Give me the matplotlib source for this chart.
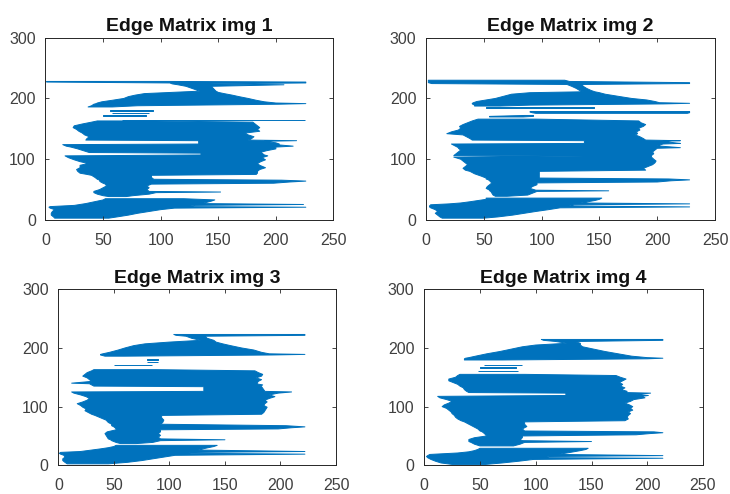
import numpy as np
import matplotlib
matplotlib.use("Agg")
import matplotlib.pyplot as plt

N = np.nan

# edge rows per image: (row y, leftmost edge x, rightmost edge x); N rows split the outline
edges_img1 = [
    (228, 1, 108), (227, 1, 226), (225.5, 108, 226), (224, 110, 142), (222.5, 115, 207),
    (220, 122, 144), (216, 128, 146), (212, 134, 148), (210, 110, 150), (208, 86, 155),
    (205.5, 78, 162), (203, 72, 168), (200, 68, 176), (197, 58, 183), (194.5, 49, 190),
    (192.5, 45, 200), (191.5, 44, 226), (190.5, 42, 202), (188, 40, 80), (186, 37, 58), (N, N, N),
    (180.5, 56, 93), (179.5, 56, 93), (N, N, N), (176.5, 58, 90), (175.5, 58, 90), (N, N, N),
    (172, 50, 87), (170.5, 50, 87), (N, N, N), (165, 66, 225), (164, 66, 225), (N, N, N),
    (163, 45, 92), (161, 40, 180), (158, 32, 182), (155, 25, 184), (152, 24, 186), (149, 27, 184),
    (146, 29, 186), (143, 32, 173), (140, 34, 176), (137, 38, 181), (134, 36, 179), (131.5, 35, 176),
    (130.5, 133, 218), (129.5, 133, 190), (127, 133, 200), (125, 133, 203), (124, 15, 200),
    (121.5, 18, 215), (120, 22, 200), (117, 28, 200), (114, 33, 192), (111, 38, 186),
    (110, 135, 188), (107, 135, 190),
    (105.5, 17, 193), (102.5, 20, 188), (99, 25, 191), (96, 30, 187), (93, 37, 184), (90, 30, 186),
    (86, 30, 191), (83, 27, 186), (80, 28, 184), (77, 30, 184), (75, 36, 183),
    (73.5, 40, 92), (70, 43, 92), (67, 45, 94), (65.5, 47, 205), (64, 47, 226), (62.5, 48, 212),
    (60.5, 50, 198), (59, 52, 92), (56, 53, 88), (53, 50, 90), (50, 47, 88), (47, 42, 90),
    (46, 42, 152), (45, 42, 96), (42.5, 45, 90), (40, 50, 76), (38.5, 55, 70), (N, N, N),
    (35, 52, 120), (33, 50, 147), (31, 45, 144), (29, 40, 140), (27, 35, 135), (25.5, 30, 224),
    (24, 25, 130), (22, 4, 122), (21, 3, 226), (19.5, 4, 112), (17, 8, 100), (14, 6, 90),
    (11, 5, 80), (8, 5, 72), (5, 7, 62), (3, 8, 55),
]

edges_img2 = [
    (230, 2, 120), (228, 2, 124), (226, 2, 228), (224.5, 5, 228), (223, 122, 135),
    (220, 126, 136), (216.5, 130, 139), (213, 133, 143), (211, 136, 146), (209.5, 90, 150),
    (207, 74, 155), (203, 66, 168), (200, 60, 178), (197.5, 52, 191), (195, 44, 198),
    (193, 41, 202), (192, 40, 228), (191, 40, 205), (189, 42, 90), (187.5, 42, 64), (N, N, N),
    (185.8, 52, 145), (185, 52, 145), (N, N, N),
    (178.5, 90, 228), (177.5, 90, 228), (176.5, 92, 228), (175.5, 95, 226), (N, N, N),
    (172, 85, 93), (170.5, 55, 93), (169.5, 55, 84), (N, N, N),
    (166, 45, 95), (163, 40, 184), (160, 36, 186), (157, 32, 190), (154, 29, 188), (151, 30, 184),
    (148, 28, 185), (145, 22, 182), (142, 18, 183), (140, 32, 181), (137, 35, 185), (134, 38, 188),
    (131.5, 40, 190),
    (130.5, 137, 220), (129.5, 137, 205), (127, 137, 215), (126, 137, 220), (125, 22, 205),
    (122, 25, 200), (119, 28, 220), (118, 28, 200), (115, 30, 198), (112, 28, 196), (109, 26, 197),
    (106, 24, 195), (105, 137, 195), (103.5, 24, 195), (100, 30, 197), (97, 32, 199), (94, 34, 198),
    (91, 36, 196), (88, 34, 192), (85, 32, 188), (82, 34, 190),
    (80, 38, 98), (76, 42, 98), (72, 48, 98), (69, 52, 98), (67.5, 52, 210), (66, 54, 228),
    (64.5, 55, 212), (62.5, 56, 200), (61, 57, 96), (58, 55, 96), (55, 53, 92), (52, 52, 90),
    (49, 55, 95), (48, 55, 158), (47, 56, 96), (44, 57, 92), (41, 58, 88), (39, 60, 70), (N, N, N),
    (36, 52, 152), (34, 52, 150), (32, 45, 146), (30, 38, 140), (28, 30, 134), (26.5, 20, 228),
    (25, 4, 128), (23, 3, 124), (21.5, 3, 228), (20, 4, 116), (17, 8, 106), (14, 10, 95),
    (11, 8, 85), (8, 10, 75), (5, 12, 62), (3, 14, 50),
]

edges_img3 = [
    (223, 104, 222), (221.5, 106, 222), (220, 115, 132), (216.5, 120, 134), (213, 128, 140),
    (210, 100, 142), (207, 78, 148), (204, 68, 155), (200, 60, 165), (196.5, 54, 176),
    (192.5, 46, 183), (190, 40, 190), (189, 38, 222), (188, 38, 192), (186, 42, 60), (N, N, N),
    (181, 80, 90), (180, 80, 90), (N, N, N), (176.5, 80, 90), (175.5, 80, 90), (N, N, N),
    (171.5, 50, 84), (170.5, 50, 84), (N, N, N),
    (163, 32, 88), (161, 30, 177), (158, 26, 180), (155, 24, 184), (152, 22, 183), (149, 26, 178),
    (146, 28, 183), (143, 30, 180), (140, 12, 179), (139, 28, 178), (137, 30, 184), (135, 32, 182),
    (134, 131, 183), (126, 131, 186), (125, 12, 210), (123, 14, 198), (120, 20, 190), (117, 25, 195),
    (114, 28, 190), (111, 26, 186), (108, 22, 188), (105, 17, 186), (102, 20, 185), (99, 22, 188),
    (96, 25, 187), (93, 24, 186), (90, 27, 185), (87, 30, 183),
    (85, 33, 93), (81, 38, 93), (77, 43, 95), (73, 45, 94), (70, 48, 92), (67.5, 48, 205),
    (65.5, 50, 222), (64, 51, 210), (62, 52, 198), (60.5, 52, 92), (57, 44, 92), (54, 42, 90),
    (51, 43, 92), (48, 44, 90), (45, 45, 92), (43.5, 47, 150), (42, 48, 92), (39, 52, 85),
    (37, 56, 70), (N, N, N),
    (34, 52, 143), (32, 50, 140), (30, 45, 135), (28, 38, 130), (26, 30, 126), (23.5, 20, 222),
    (22, 2, 120), (20.5, 1, 116), (19, 2, 222), (17, 5, 105), (14, 6, 95), (11, 4, 85),
    (8, 4, 75), (5, 6, 62), (2.5, 8, 45),
]

edges_img4 = [
    (214.5, 105, 214), (213, 107, 214), (211, 118, 135), (208, 128, 140), (205, 100, 140),
    (202, 88, 142), (198, 78, 152), (194, 68, 162), (190, 56, 174), (186, 46, 186),
    (183.5, 40, 200), (182.5, 37, 214), (181.5, 36, 200), (179.5, 36, 70), (N, N, N),
    (171.5, 54, 88), (170.5, 54, 88), (N, N, N), (167.5, 50, 82), (166.5, 50, 82), (N, N, N),
    (161.5, 48, 84), (160.5, 48, 84), (N, N, N),
    (155, 32, 90), (153, 30, 172), (150, 28, 176), (147, 22, 181), (144, 22, 178), (141, 26, 175),
    (138, 30, 178), (135, 32, 176), (132, 35, 180), (129, 36, 177), (126, 38, 182), (124, 40, 180),
    (123, 127, 203), (121, 127, 190), (119, 127, 201), (117.5, 12, 195), (115, 14, 198),
    (112, 20, 188), (109, 25, 185), (106, 22, 180), (103, 18, 184), (100, 16, 187), (97, 20, 185),
    (94, 22, 187), (91, 24, 183), (88, 25, 185), (85, 27, 183), (82, 28, 182), (79, 30, 183),
    (76, 33, 180),
    (74, 36, 90), (70, 40, 90), (66, 44, 92), (62, 48, 88), (58.5, 50, 90), (57, 52, 206),
    (55.5, 53, 214), (54, 54, 202), (52, 55, 190), (50, 56, 88), (47, 45, 88), (44, 40, 86),
    (42, 40, 88), (40.5, 40, 150), (39, 42, 90), (36, 45, 86), (33, 50, 80), (N, N, N),
    (29, 50, 147), (27, 48, 145), (25, 45, 140), (23, 40, 134), (21, 30, 128), (18.5, 5, 120),
    (16.5, 3, 214), (15, 2, 112), (13, 3, 108), (12, 4, 214), (10, 6, 98), (7, 10, 85),
    (4, 15, 70), (1.5, 25, 55),
]

titles = ["Edge Matrix img 1", "Edge Matrix img 2", "Edge Matrix img 3", "Edge Matrix img 4"]
x_ticks = [0, 50, 100, 150, 200, 250]
y_ticks = [0, 100, 200, 300]

BLUE = "#0072BD"
DARK = "#262626"

plt.rcParams["font.family"] = ["Liberation Sans", "DejaVu Sans"]

fig = plt.figure(figsize=(7.3, 4.94), dpi=100)

# axes boxes in figure fractions (left, bottom, width, height)
boxes = [
    [0.0623, 0.5547, 0.3945, 0.369],
    [0.5836, 0.5547, 0.3959, 0.369],
    [0.0799, 0.0581, 0.3804, 0.3563],
    [0.5812, 0.0581, 0.3818, 0.3563],
]

all_edges = [edges_img1, edges_img2, edges_img3, edges_img4]

for box, edges, title in zip(boxes, all_edges, titles):
    ax = fig.add_axes(box)
    y, xl, xr = np.array(edges, dtype=float).T
    ax.fill_betweenx(y, xl, xr, facecolor=BLUE, edgecolor=BLUE, linewidth=0.7)
    ax.set_xlim(0, 250)
    ax.set_ylim(0, 300)
    ax.set_xticks(x_ticks)
    ax.set_yticks(y_ticks)
    ax.tick_params(direction="in", top=True, right=True, length=3, width=0.6,
                   color=DARK, labelcolor="#404040", labelsize=11.5)
    ax.tick_params(axis="x", pad=9.5)
    ax.tick_params(axis="y", pad=7)
    for s in ax.spines.values():
        s.set_color(DARK)
        s.set_linewidth(0.7)
    ax.set_title(title, fontsize=14, fontweight="bold", pad=4.5, color="#111111")

fig.savefig("out.png", dpi=100)
